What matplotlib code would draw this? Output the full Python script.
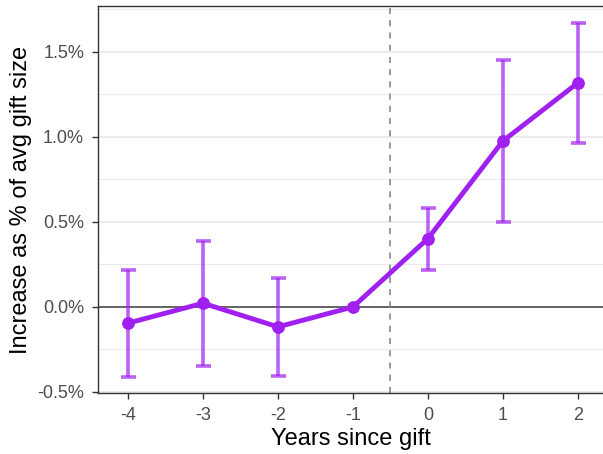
import matplotlib
matplotlib.use("Agg")
import matplotlib.pyplot as plt
from matplotlib.ticker import FixedLocator, FuncFormatter

plt.rcParams['font.family'] = ['Liberation Sans', 'DejaVu Sans']

years = [-4, -3, -2, -1, 0, 1, 2]
estimate = [-0.095, 0.022, -0.117, 0.0, 0.402, 0.976, 1.318]
ci_low = [-0.410, -0.350, -0.406, 0.0, 0.220, 0.500, 0.965]
ci_high = [0.218, 0.388, 0.172, 0.0, 0.584, 1.453, 1.669]
y_ticks = [-0.5, 0.0, 0.5, 1.0, 1.5]
y_minor = [-0.25, 0.25, 0.75, 1.25, 1.75]

purple = '#A020F0'

fig = plt.figure(figsize=(6.03, 4.54), dpi=100)
ax = fig.add_axes([98 / 603, 61 / 454, 505 / 603, 387 / 454])

ax.set_xlim(-4.4, 2.335)
ax.set_ylim(-0.506, 1.77)

for v in y_minor:
    ax.axhline(v, color='#EBEBEB', lw=0.8, zorder=0)
for v in y_ticks:
    ax.axhline(v, color='#EBEBEB', lw=1.4, zorder=0)

ax.axhline(0, color='#4D4D4D', lw=1.2, zorder=1)
ax.axvline(-0.5, color='#7F7F7F', lw=1.1, ls=(0, (4, 4)), zorder=1)

# confidence intervals (only where the interval is non-degenerate)
for x, lo, hi in zip(years, ci_low, ci_high):
    if hi > lo:
        ax.errorbar([x], [(lo + hi) / 2], yerr=[[(hi - lo) / 2], [(hi - lo) / 2]],
                    fmt='none', ecolor=purple, alpha=0.7, elinewidth=2.6,
                    capsize=5.4, capthick=2.6, zorder=2)

ax.plot(years, estimate, color=purple, lw=3.5, zorder=3)
ax.scatter(years, estimate, color=purple, s=85, zorder=4, linewidths=0)

ax.set_xticks(years)
ax.set_xticklabels([str(y) for y in years])
ax.yaxis.set_major_locator(FixedLocator(y_ticks))
ax.yaxis.set_major_formatter(FuncFormatter(lambda v, p: f"{v:.1f}%"))

for side in ['left', 'bottom', 'top']:
    ax.spines[side].set_color('#333333')
    ax.spines[side].set_linewidth(1.0)
ax.spines['right'].set_visible(False)

ax.tick_params(axis='both', direction='out', length=4, width=1.0, color='#333333',
               labelcolor='#4D4D4D', labelsize=13)
ax.tick_params(axis='y', pad=6)
ax.tick_params(axis='x', pad=6)

ax.set_xlabel('Years since gift', fontsize=17, color='black', labelpad=3)
ax.set_ylabel('Increase as % of avg gift size', fontsize=17, color='black', labelpad=3.5)

fig.savefig('out.png', dpi=100)
